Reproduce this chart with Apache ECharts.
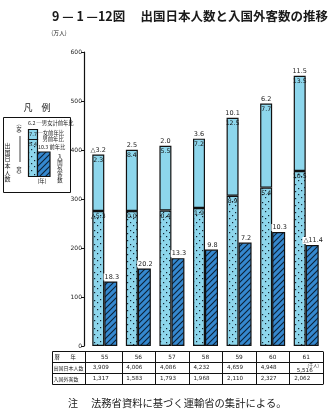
<!DOCTYPE html>
<html><head><meta charset="utf-8">
<script src="https://cdn.jsdelivr.net/npm/echarts/dist/echarts.min.js"></script>
<style>html,body{margin:0;padding:0;background:#fff}#c{width:330px;height:415px}</style>
</head><body><div id="c"></div>
<script>
// ---- data ----
const years = ['55','56','57','58','59','60','61'];
const maleJp = [275.4, 275.4, 276.5, 281.6, 306.7, 323.3, 357.0];
const femaleJp = [115.5, 125.2, 132.1, 141.6, 159.2, 171.5, 194.6];
const foreign = [131.7, 158.3, 179.3, 196.8, 211.0, 232.7, 206.2];
const totalGrowth = ['△3.2','2.5','2.0','3.6','10.1','6.2','11.5'];
const femaleGrowth = ['2.3','8.4','5.5','7.2','12.5','7.7','13.5'];
const maleGrowth = ['△5.3','0.0','0.4','1.9','8.9','5.4','10.5'];
const foreignGrowth = ['18.3','20.2','13.3','9.8','7.2','10.3','△11.4'];
const jpTotalTable = ['3,909','4,006','4,086','4,232','4,659','4,948','5,516'];
const foreignTable = ['1,317','1,583','1,793','1,968','2,110','2,327','2,062'];
const yTicks = [0,100,200,300,400,500,600];
const rowLabels = ['暦　　年','出国日本人数','入国外客数'];

// ---- layout ----
const GL = 88, GR = 7, GT = 52, GB = 69;
const W = 330, H = 415;
const gridW = W - GL - GR;
const catW = gridW / years.length;
const FONT = 'DejaVu Sans';
const JFONT = 'Noto Sans CJK JP';
const CYAN = '#8dd6ec';

function dotPattern() {
  const c = document.createElement('canvas'); c.width = 12; c.height = 14;
  const g = c.getContext('2d');
  g.fillStyle = CYAN; g.fillRect(0,0,12,14);
  g.fillStyle = '#132433';
  [[1,1],[7,2],[4,5],[10,6],[1,8],[7,9],[4,12],[10,12]].forEach(p => g.fillRect(p[0],p[1],1.2,1.2));
  return c;
}
function hatchPattern() {
  const c = document.createElement('canvas'); c.width = 6; c.height = 6;
  const g = c.getContext('2d');
  g.fillStyle = '#3588cf'; g.fillRect(0,0,6,6);
  g.strokeStyle = '#0c2236'; g.lineWidth = 1.1;
  g.beginPath();
  g.moveTo(-1,7); g.lineTo(7,-1);
  g.moveTo(-4,4); g.lineTo(4,-4);
  g.moveTo(2,10); g.lineTo(10,2);
  g.stroke();
  return c;
}
const dots = {image: dotPattern(), repeat: 'repeat'};
const hatch = {image: hatchPattern(), repeat: 'repeat'};

// ---- graphics (title, legend box, table frame, notes) ----
const gfx = [];
function txt(x, y, s, size, align, extra) {
  gfx.push({type:'text', x:x, y:y, silent:true,
    style: Object.assign({text:s, fontSize:size, fontFamily:JFONT, fill:'#1a1a1a',
      textAlign:align||'left', textVerticalAlign:'middle'}, extra||{})});
}
function line(x1,y1,x2,y2,w) {
  gfx.push({type:'line', silent:true, shape:{x1:x1,y1:y1,x2:x2,y2:y2}, style:{stroke:'#111', lineWidth:w||1}});
}
function rect(x,y,w,h,fill,lw) {
  gfx.push({type:'rect', silent:true, shape:{x:x,y:y,width:w,height:h}, style:{fill:fill, stroke:'#111', lineWidth:lw||1}});
}
// title
txt(52, 16, '9 — 1 —12図　 出国日本人数と入国外客数の推移', 12.5, 'left', {fontWeight:'bold'});
txt(59, 33, '(万人)', 5.8, 'center');
// legend
txt(37, 108, '凡　例', 9, 'center');
rect(3.5, 117.5, 67, 75, 'none', 1);
rect(28.5, 129.5, 9, 10, CYAN, 1.2);
rect(28.5, 139.5, 9, 37, dots, 1.2);
rect(37.5, 152, 12.5, 24.5, hatch, 1.2);
txt(33, 134.3, '7.7', 5.2, 'center', {fontFamily:FONT});
txt(33, 144.3, '5.4', 5.2, 'center', {fontFamily:FONT});
txt(28, 123, '6.2 ─男女計前年比', 5.3, 'left');
txt(37.5, 133.3, '─女前年比', 5.3, 'left');
txt(42.5, 138.5, '男前年比', 5.3, 'left');
txt(38, 147, '10.3 前年比', 5.3, 'left');
txt(60, 168.5, '入\n国\n外\n客\n数', 5.4, 'center', {lineHeight:5.8});
txt(42, 181, '(年)', 5.4, 'center');
txt(7.5, 162.5, '出\n国\n日\n本\n人\n数', 6, 'center', {lineHeight:6.6});
txt(19, 128, '︵\n女\n︶', 5, 'center', {lineHeight:4.6});
txt(19, 169.5, '︵\n男\n︶', 5, 'center', {lineHeight:4.6});
line(20, 136, 20, 162, 0.8);
// table frame
const tTop = 351.5, rowH = 11, tLeft = 52.5, tLabel = 85.5, tRight = GL + gridW;
for (let r = 0; r <= 3; r++) line(tLeft, tTop + r*rowH, tRight, tTop + r*rowH, 1);
line(tLeft, tTop, tLeft, tTop + 3*rowH, 1);
line(tLabel, tTop, tLabel, tTop + 3*rowH, 1);
for (let i = 1; i <= years.length; i++) {
  const x = Math.round(GL + i*catW) + 0.5;
  line(x, tTop, x, tTop + 3*rowH, 1);
}
txt(54.5, tTop + rowH*0.5, rowLabels[0], 5.3, 'left');
txt(53.5, tTop + rowH*1.5, rowLabels[1], 5, 'left');
txt(53.5, tTop + rowH*2.5, rowLabels[2], 5, 'left');
// footnote
txt(68, 403, '注', 10, 'left');
txt(91, 403, '法務省資料に基づく運輸省の集計による。', 10.3, 'left');

const chart = echarts.init(document.getElementById('c'), null, {renderer:'canvas'});
chart.setOption({
  animation: false,
  backgroundColor: '#fff',
  grid: {left: GL, right: GR, top: GT, bottom: GB, containLabel: false},
  xAxis: {
    type: 'category', data: years,
    axisLine: {show:false}, axisTick: {show:false},
    axisLabel: {
      interval: 0, margin: 5.5, color: '#1a1a1a',
      formatter: function (v, i) {
        if (i === years.length - 1)
          return '{y|' + v + '}\n{k|(千人)}\n{a6|' + jpTotalTable[i] + '}\n{a|' + foreignTable[i] + '}';
        return '{y|' + v + '}\n{a|' + jpTotalTable[i] + '}\n{a|' + foreignTable[i] + '}';
      },
      rich: {
        y: {fontSize:5.8, lineHeight:11, fontFamily:FONT, color:'#1a1a1a'},
        a: {fontSize:5.6, lineHeight:11, fontFamily:FONT, color:'#1a1a1a', padding:[0,8,0,0]},
        k: {fontSize:4.2, lineHeight:5, fontFamily:JFONT, color:'#1a1a1a', padding:[0,0,0,14]},
        a6: {fontSize:5.6, lineHeight:6, fontFamily:FONT, color:'#1a1a1a', padding:[0,3,0,0]}
      }
    }
  },
  yAxis: {
    type: 'value', min: yTicks[0], max: yTicks[yTicks.length-1], interval: yTicks[1]-yTicks[0],
    offset: 4,
    axisLine: {show:true, lineStyle:{color:'#111', width:1.2}},
    axisTick: {show:true, length:3, lineStyle:{color:'#111', width:1}},
    axisLabel: {fontSize:6, color:'#1a1a1a', margin:2, fontFamily:FONT},
    splitLine: {show:false}
  },
  series: [
    {
      name: '男', type: 'bar', stack: 'jp', barWidth: 12, barGap: '0%',
      data: maleJp,
      itemStyle: {color: dots, borderColor:'#111', borderWidth:1.2},
      label: {show:true, position:'insideTop', distance:2.5, fontSize:6.2, fontFamily:FONT,
        color:'#111', formatter: p => maleGrowth[p.dataIndex]}
    },
    {
      name: '女', type: 'bar', stack: 'jp', barWidth: 12,
      data: femaleJp,
      itemStyle: {color: CYAN, borderColor:'#111', borderWidth:1.2},
      label: {show:true, position:'insideTop', distance:0, offset:[0,-9],
        formatter: p => '{t|' + totalGrowth[p.dataIndex] + '}\n{f|' + femaleGrowth[p.dataIndex] + '}',
        rich: {
          t: {fontSize:6.5, lineHeight:9, fontFamily:FONT, color:'#1a1a1a'},
          f: {fontSize:6.2, lineHeight:11, fontFamily:FONT, color:'#111'}
        }}
    },
    {
      name: '入国外客数', type: 'bar', barWidth: 13, barGap: '0%',
      data: foreign,
      itemStyle: {color: hatch, borderColor:'#111', borderWidth:1.2},
      label: {show:true, position:'top', distance:1, offset:[1,0], fontSize:6.5, fontFamily:FONT,
        color:'#1a1a1a', backgroundColor:'#fff', padding:[0,1,0,1],
        formatter: p => foreignGrowth[p.dataIndex]}
    }
  ],
  graphic: gfx
});
</script>
</body></html>
